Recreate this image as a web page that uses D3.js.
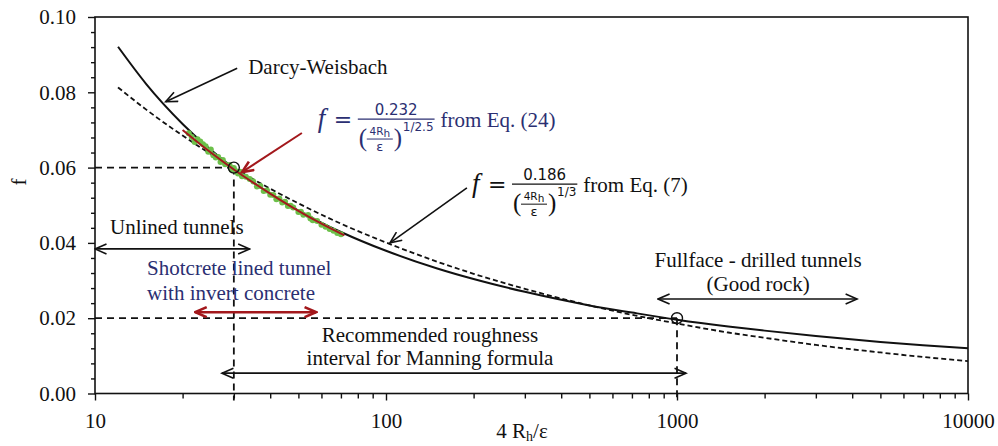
<!DOCTYPE html>
<html>
<head>
<meta charset="utf-8">
<script src="https://cdn.jsdelivr.net/npm/d3@7"></script>
<style>
  html, body { margin: 0; padding: 0; background: #fff; }
  svg { display: block; font-family: "Liberation Serif", "Times New Roman", serif; }
</style>
</head>
<body>
<svg id="chart" width="998" height="446"></svg>
<script>
// ===== DATA =====
const xDarcy = [12, 15, 20, 30, 40, 50, 70, 100, 150, 200, 300, 500, 700, 1000, 1500, 2000, 3000, 5000, 7000, 10000];
const fDarcy = [0.0921, 0.0822, 0.0716, 0.0598, 0.0531, 0.0486, 0.0429, 0.0379, 0.0332, 0.0304, 0.0270, 0.0234, 0.0215, 0.0196, 0.0178, 0.0167, 0.0153, 0.0137, 0.0128, 0.0120];

const xEq7 = [12, 15, 20, 30, 40, 50, 70, 100, 150, 200, 300, 500, 700, 1000, 1500, 2000, 3000, 5000, 7000, 10000];
const fEq7 = [0.0813, 0.0754, 0.0685, 0.0599, 0.0544, 0.0505, 0.0451, 0.0401, 0.0350, 0.0318, 0.0278, 0.0234, 0.0209, 0.0186, 0.0162, 0.0148, 0.0129, 0.0109, 0.0097, 0.0086];

const xEq24 = [20, 25, 30, 40, 50, 60, 72];
const fEq24 = [0.0700, 0.0640, 0.0595, 0.0531, 0.0485, 0.0451, 0.0420];

const xObs = [21, 21.5, 22, 22.5, 23, 23.5, 24, 24.5, 25, 25.5, 26, 26.5, 27, 27.5, 28, 29, 29.5, 30, 30.5, 31, 31.5, 32, 33, 34, 35, 36, 37, 38, 39, 40, 41, 42, 43, 44, 45, 46, 47, 48, 50, 51, 52, 54, 55, 56, 58, 60, 62, 64, 66, 68, 70];
const fObs = [0.0691, 0.0681, 0.0668, 0.0675, 0.0669, 0.0662, 0.0657, 0.0642, 0.0648, 0.0633, 0.0627, 0.0628, 0.0615, 0.0620, 0.0609, 0.0607, 0.0594, 0.0599, 0.0590, 0.0584, 0.0589, 0.0577, 0.0576, 0.0570, 0.0563, 0.0550, 0.0551, 0.0538, 0.0539, 0.0528, 0.0527, 0.0516, 0.0518, 0.0507, 0.0509, 0.0498, 0.0499, 0.0494, 0.0482, 0.0483, 0.0475, 0.0474, 0.0465, 0.0460, 0.0458, 0.0448, 0.0443, 0.0437, 0.0432, 0.0426, 0.0423];

const xMajorTicks = [10, 100, 1000, 10000];
const yTicks = [0, 0.02, 0.04, 0.06, 0.08, 0.10];
const markedPoints = [[30, 0.06], [1000, 0.02]];

// ===== COLOURS =====
const navy = "#2b2f72", darkRed = "#a3181c", green = "#6cc04a";

// ===== SETUP =====
const svg = d3.select("#chart");
const width = +svg.attr("width"), height = +svg.attr("height");
const margin = {top: 17, right: 30, bottom: 52.5, left: 95};

const x = d3.scaleLog().domain([10, 10000]).range([margin.left, width - margin.right]);
const y = d3.scaleLinear().domain([0, 0.10]).range([height - margin.bottom, margin.top]);

const defs = svg.append("defs");
function marker(id, color, w) {
  defs.append("marker").attr("id", id)
    .attr("viewBox", "0 0 14 12").attr("refX", 12.5).attr("refY", 6)
    .attr("markerUnits", "userSpaceOnUse").attr("markerWidth", 14).attr("markerHeight", 12)
    .attr("orient", "auto-start-reverse")
    .append("path").attr("d", "M1,1 L12.5,6 L1,11")
    .attr("fill", "none").attr("stroke", color).attr("stroke-width", w);
}
marker("arrBlack", "#111", 1.6);
marker("arrRed", darkRed, 2.6);

// ===== AXES =====
const styleTicks = g => g.selectAll("text").attr("font-size", 21)
  .style("font-family", "Liberation Serif").attr("fill", "#111");

const xMinor = [];
[10, 100, 1000].forEach(d => { for (let k = 2; k <= 9; k++) xMinor.push(d * k); });
svg.append("g").attr("transform", `translate(0,${y(0)})`)
  .call(d3.axisBottom(x).tickValues(xMinor).tickSize(5).tickFormat(""))
  .call(g => g.select(".domain").remove())
  .call(g => g.selectAll("line").attr("stroke", "#111").attr("stroke-width", 1.4));
svg.append("g").attr("transform", `translate(0,${y(0)})`)
  .call(d3.axisBottom(x).tickValues(xMajorTicks).tickSize(7).tickPadding(13).tickFormat(d3.format("d")))
  .call(g => g.select(".domain").remove())
  .call(g => g.selectAll("line").attr("stroke", "#111").attr("stroke-width", 1.4))
  .call(styleTicks);

const yMinor = d3.range(0, 0.1001, 0.004).filter(v => Math.abs(v / 0.02 - Math.round(v / 0.02)) > 1e-6);
svg.append("g").attr("transform", `translate(${x(10)},0)`)
  .call(d3.axisLeft(y).tickValues(yMinor).tickSize(4).tickFormat(""))
  .call(g => g.select(".domain").remove())
  .call(g => g.selectAll("line").attr("stroke", "#111").attr("stroke-width", 1.4));
svg.append("g").attr("transform", `translate(${x(10)},0)`)
  .call(d3.axisLeft(y).tickValues(yTicks).tickSize(7).tickPadding(12).tickFormat(d3.format(".2f")))
  .call(g => g.select(".domain").remove())
  .call(g => g.selectAll("line").attr("stroke", "#111").attr("stroke-width", 1.4))
  .call(styleTicks);

// frame
svg.append("rect")
  .attr("x", x(10)).attr("y", y(0.10))
  .attr("width", x(10000) - x(10)).attr("height", y(0) - y(0.10))
  .attr("fill", "none").attr("stroke", "#111").attr("stroke-width", 1.6);

// axis titles
const xt = svg.append("text").attr("x", 522).attr("y", 438).attr("text-anchor", "middle").attr("font-size", 21).attr("fill", "#111");
xt.append("tspan").text("4 R");
xt.append("tspan").attr("font-size", 14).attr("dy", 3).text("h");
xt.append("tspan").attr("dy", -3).text("/ε");
svg.append("text").attr("transform", "translate(26,182) rotate(-90)")
  .attr("text-anchor", "middle").attr("font-size", 21).attr("fill", "#111").text("f");

// ===== REFERENCE LINES =====
const dash = "7,5";
function refLine(x1, f1, x2, f2, extra) {
  svg.append("line")
    .attr("x1", x(x1)).attr("y1", y(f1)).attr("x2", x(x2)).attr("y2", y(f2) + (extra || 0))
    .attr("stroke", "#111").attr("stroke-width", 1.8).attr("stroke-dasharray", dash);
}
refLine(10, 0.06, 30, 0.06);
refLine(30, 0.06, 30, 0, 7);
refLine(10, 0.02, 1000, 0.02);
refLine(1000, 0.02, 1000, 0, 7);

// ===== CURVES =====
const line = d3.line().x(d => x(d[0])).y(d => y(d[1])).curve(d3.curveMonotoneX);
svg.append("path").datum(xEq7.map((v, i) => [v, fEq7[i]])).attr("d", line)
  .attr("fill", "none").attr("stroke", "#111").attr("stroke-width", 1.8).attr("stroke-dasharray", "5,3");
svg.append("path").datum(xDarcy.map((v, i) => [v, fDarcy[i]])).attr("d", line)
  .attr("fill", "none").attr("stroke", "#111").attr("stroke-width", 2);
svg.append("g").selectAll("circle").data(xObs.map((v, i) => [v, fObs[i]])).join("circle")
  .attr("cx", d => x(d[0])).attr("cy", d => y(d[1])).attr("r", 3)
  .attr("fill", green);
svg.append("path").datum(xEq24.map((v, i) => [v, fEq24[i]])).attr("d", line)
  .attr("fill", "none").attr("stroke", darkRed).attr("stroke-width", 2);

svg.append("g").selectAll("circle").data(markedPoints).join("circle")
  .attr("cx", d => x(d[0])).attr("cy", d => y(d[1])).attr("r", 5.5)
  .attr("fill", "none").attr("stroke", "#111").attr("stroke-width", 1.4);

// ===== ANNOTATIONS =====
function arrow(x1, f1, x2, f2, color, w, both) {
  const id = color === darkRed ? "arrRed" : "arrBlack";
  const l = svg.append("line")
    .attr("x1", x(x1)).attr("y1", y(f1)).attr("x2", x(x2)).attr("y2", y(f2))
    .attr("stroke", color).attr("stroke-width", w)
    .attr("marker-end", `url(#${id})`);
  if (both) l.attr("marker-start", `url(#${id})`);
}
function label(xv, fv, txt, anchor, color) {
  svg.append("text").attr("x", x(xv)).attr("y", y(fv)).attr("dy", "0.35em")
    .attr("text-anchor", anchor).attr("font-size", 21).attr("fill", color || "#111").text(txt);
}

label(33.6, 0.0867, "Darcy-Weisbach", "start");
arrow(30.8, 0.0864, 17.5, 0.0775, "#111", 1.6);

arrow(51.4, 0.0692, 32.0, 0.0588, darkRed, 2);
arrow(189.7, 0.0546, 103.2, 0.0400, "#111", 1.6);

label(19.1, 0.0442, "Unlined tunnels", "middle");
arrow(10, 0.0384, 34, 0.0384, "#111", 1.6, true);

label(15.1, 0.0333, "Shotcrete lined tunnel", "start", navy);
label(15.1, 0.0267, "with invert concrete", "start", navy);
arrow(22.1, 0.0216, 57.5, 0.0216, darkRed, 2.6, true);

label(141.6, 0.0155, "Recommended roughness", "middle");
label(141.6, 0.0094, "interval for Manning formula", "middle");
arrow(27.3, 0.0054, 1074, 0.0054, "#111", 1.6, true);

label(1900, 0.0355, "Fullface - drilled tunnels", "middle");
label(1900, 0.0293, "(Good rock)", "middle");
arrow(861, 0.0251, 4159, 0.0251, "#111", 1.6, true);

// formulas
function formula(xv, fv, num, expo, eq, color) {
  const g = svg.append("g").attr("transform", `translate(${x(xv)},${y(fv)})`);
  const t = (px, py, s, size, fam, extra) => {
    const e = g.append("text").attr("x", px).attr("y", py).attr("font-size", size)
      .style("font-family", fam).attr("fill", color).text(s);
    if (extra) extra(e);
    return e;
  };
  t(0, 8, "f", 27, "Liberation Serif", e => e.style("font-style", "italic"));
  t(16, 8, "=", 22, "DejaVu Serif");
  t(41, 27, "(", 25, "Liberation Serif");
  const inner = t(62, 16, "", 10.5, "DejaVu Sans", e => e.attr("text-anchor", "middle"));
  inner.append("tspan").text("4R");
  inner.append("tspan").attr("dy", 1.5).text("h");
  g.append("line").attr("x1", 49).attr("x2", 75).attr("y1", 20).attr("y2", 20).attr("stroke", color).attr("stroke-width", 1);
  t(62, 32, "ε", 13, "DejaVu Sans", e => e.attr("text-anchor", "middle"));
  t(76, 27, ")", 25, "Liberation Serif");
  const sup = t(85, 12, expo, 12, "DejaVu Sans");
  const barEnd = 85 + sup.node().getComputedTextLength() + 1;
  g.append("line").attr("x1", 40).attr("x2", barEnd).attr("y1", 0).attr("y2", 0).attr("stroke", color).attr("stroke-width", 1.2);
  t((40 + barEnd) / 2, -4, num, 15, "DejaVu Sans", e => e.attr("text-anchor", "middle"));
  t(barEnd + 6, 8, eq, 21, "Liberation Serif");
}
formula(58.3, 0.0729, "0.232", "1/2.5", "from Eq. (24)", navy);
formula(197.5, 0.0556, "0.186", "1/3", "from Eq. (7)", "#111");
</script>
</body>
</html>
